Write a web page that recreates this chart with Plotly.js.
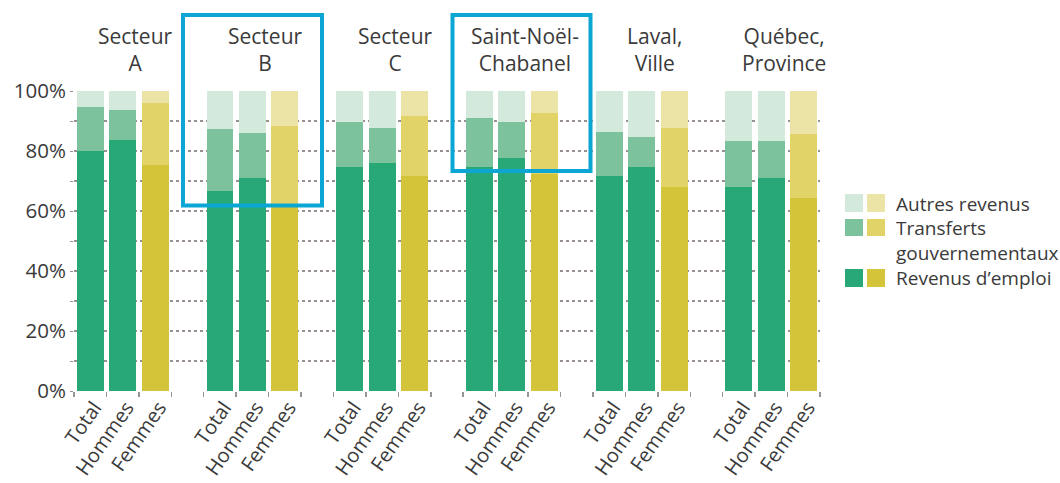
<!DOCTYPE html>
<html>
<head>
<meta charset="utf-8">
<script src="https://cdn.plot.ly/plotly-3.0.1.min.js"></script>
<style>html,body{margin:0;padding:0;background:#fff;}#chart{width:1060px;height:483px;}</style>
</head>
<body>
<div id="chart"></div>
<script>
// ---- data ----
const groups = ["Secteur<br>A", "Secteur<br>B", "Secteur<br>C", "Saint-Noël-<br>Chabanel", "Laval,<br>Ville", "Québec,<br>Province"];
const subgroups = ["Total", "Hommes", "Femmes"];
// per group: [Total, Hommes, Femmes]
const revenusEmploi = [
  [80.0, 83.7, 75.5],
  [66.7, 70.9, 61.5],
  [74.6, 76.1, 71.8],
  [74.6, 77.6, 72.5],
  [71.8, 74.6, 68.1],
  [68.1, 71.1, 64.2]
];
const transferts = [
  [14.6, 10.0, 20.4],
  [20.6, 15.0, 26.9],
  [15.2, 11.5, 19.9],
  [16.5, 12.2, 20.1],
  [14.4, 10.2, 19.7],
  [15.2, 12.2, 21.4]
];
const autresRevenus = [
  [5.4, 6.3, 4.1],
  [12.7, 14.1, 11.6],
  [10.2, 12.4, 8.3],
  [8.9, 10.2, 7.4],
  [13.8, 15.2, 12.2],
  [16.7, 16.7, 14.4]
];
const yTickVals = [0, 10, 20, 30, 40, 50, 60, 70, 80, 90, 100];
const yTickText = ["0%", "", "20%", "", "40%", "", "60%", "", "80%", "", "100%"];
const legendLabels = ["Autres revenus", "Transferts", "gouvernementaux", "Revenus d\u2019emploi"];

// ---- styles ----
const FONT = "Open Sans, sans-serif";
const TXT = "#3a3a3a";
const green = {emploi: "rgb(40,168,118)", transf: "rgb(124,194,157)", autres: "rgb(210,233,219)"};
const yellow = {emploi: "rgb(212,196,58)", transf: "rgb(225,211,104)", autres: "rgb(236,228,166)"};
const BLUE = "#0ba6d3";

// ---- build x positions (one empty slot between groups) ----
const xs = [], xLabels = [], colE = [], colT = [], colA = [];
const yE = [], yT = [], yA = [];
groups.forEach((g, gi) => {
  subgroups.forEach((s, si) => {
    xs.push(gi * 4 + si);
    xLabels.push(s);
    const pal = si === 2 ? yellow : green;
    colE.push(pal.emploi); colT.push(pal.transf); colA.push(pal.autres);
    yE.push(revenusEmploi[gi][si]);
    yT.push(transferts[gi][si]);
    yA.push(autresRevenus[gi][si]);
  });
});

const W = 1060, H = 483;
const M = {l: 74, r: 240, t: 91, b: 92};
const pw = W - M.l - M.r, ph = H - M.t - M.b;
const px2x = p => (p - M.l) / pw;
const py2y = p => (H - M.b - p) / ph;

const barW = 0.83;
const traces = [
  {name: "Revenus d'emploi", y: yE, colors: colE},
  {name: "Transferts gouvernementaux", y: yT, colors: colT},
  {name: "Autres revenus", y: yA, colors: colA}
].map(t => ({
  type: "bar", x: xs, y: t.y, name: t.name, width: barW,
  marker: {color: t.colors, line: {width: 0}},
  hoverinfo: "y+name", showlegend: false
}));

const annotations = [];
const shapes = [];
// group titles
groups.forEach((g, gi) => {
  annotations.push({
    x: gi * 4 + 1.4, xref: "x", y: py2y(49), yref: "paper",
    text: g, showarrow: false, xanchor: "center", yanchor: "middle",
    font: {family: FONT, size: 21, color: TXT}, align: "center"
  });
});
// highlight boxes
const boxes = [
  {x0: 183, x1: 322, y0: 15, y1: 205.5},
  {x0: 452.5, x1: 590.5, y0: 15, y1: 171}
];
boxes.forEach(b => shapes.push({
  type: "rect", xref: "paper", yref: "paper",
  x0: px2x(b.x0), x1: px2x(b.x1), y0: py2y(b.y1), y1: py2y(b.y0),
  line: {color: BLUE, width: 4}, fillcolor: "rgba(0,0,0,0)", layer: "above"
}));
// legend swatches
const rows = [
  {y0: 194, y1: 212, key: "autres"},
  {y0: 219, y1: 236, key: "transf"},
  {y0: 269, y1: 287, key: "emploi"}
];
rows.forEach(r => {
  [[845, 863, green], [867, 885, yellow]].forEach(([a, b, pal]) => shapes.push({
    type: "rect", xref: "paper", yref: "paper",
    x0: px2x(a), x1: px2x(b), y0: py2y(r.y1), y1: py2y(r.y0),
    fillcolor: pal[r.key], line: {width: 0}
  }));
});
const legY = [204, 228, 253, 278];
legendLabels.forEach((t, i) => annotations.push({
  x: px2x(894), xref: "paper", y: py2y(legY[i]), yref: "paper",
  text: t, showarrow: false, xanchor: "left", yanchor: "middle",
  font: {family: FONT, size: 19, color: TXT}
}));

const layout = {
  width: W, height: H,
  margin: M,
  paper_bgcolor: "#fff", plot_bgcolor: "#fff",
  barmode: "stack",
  showlegend: false,
  font: {family: FONT, color: TXT, size: 19},
  xaxis: {
    range: [-0.5, 22.5], fixedrange: true,
    tickmode: "array", tickvals: xs, ticktext: xLabels,
    tickangle: -55, ticks: "", showgrid: false, zeroline: false, showline: false,
    ticklabelshift: 4, ticklabelstandoff: 0,
    tickfont: {family: FONT, size: 20, color: TXT},
    minor: {tick0: -0.5, dtick: 1, ticks: "outside", ticklen: 5, tickwidth: 1.5, tickcolor: "#9a9494", showgrid: false}
  },
  yaxis: {
    range: [0, 100], fixedrange: true,
    tickmode: "array", tickvals: yTickVals, ticktext: yTickText,
    showgrid: true, gridcolor: "#9a9090", gridwidth: 1.5, griddash: "dot",
    zeroline: false, showline: false,
    ticks: "outside", ticklen: 3, tickcolor: "#9a9090",
    tickfont: {family: FONT, size: 20.5, color: TXT}
  },
  annotations: annotations,
  shapes: shapes
};

Plotly.newPlot("chart", traces, layout, {displayModeBar: false, staticPlot: true});
</script>
</body>
</html>
